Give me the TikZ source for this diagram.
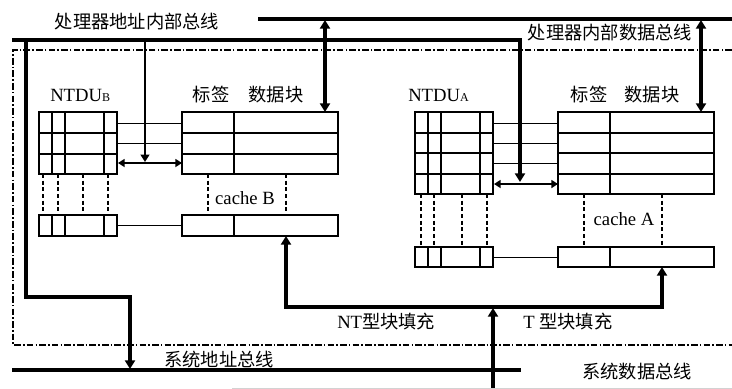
\documentclass[tikz,border=0pt]{standalone}
\usepackage{fontspec}
\setmainfont{Liberation Serif}
\newfontfamily\cjk{Noto Sans CJK SC}
\usetikzlibrary{arrows.meta}
\begin{document}
\begin{tikzpicture}[x=0.75pt,y=-0.75pt,
  bus/.style={line width=2.6pt},
  busarrow/.style={line width=2.5pt,-{Triangle[length=6.5pt,width=7.5pt]}},
  busdbl/.style={line width=2.5pt,{Triangle[length=6.5pt,width=7.5pt]}-{Triangle[length=6.5pt,width=7.5pt]}},
  dbl/.style={line width=1.7pt,{Triangle[length=5pt,width=6pt]}-{Triangle[length=5pt,width=6pt]}},
  tbl/.style={line width=0.95pt},
  link/.style={line width=0.65pt},
  vdash/.style={line width=1.5pt,dash pattern=on 3pt off 2pt},
  frame/.style={line width=0.8pt,dash pattern=on 5pt off 1.6pt on 1.2pt off 1.6pt},
  lbl/.style={font=\fontsize{13.7}{14}\selectfont\cjk, inner sep=0pt},
  lat/.style={font=\fontsize{14}{14}\selectfont, inner sep=0pt}]
\useasboundingbox (0,0) rectangle (732,389);

% ---------- frame (dash-dot) ----------
\draw[frame] (732,50) -- (13,50) -- (13,345) -- (732,345);

% ---------- coordinates ----------
\coordinate (dbL) at (258,19);  \coordinate (dbR) at (732,19);
\coordinate (abL) at (12,40);   \coordinate (abC) at (520,40);
\coordinate (abA) at (520,182);
\coordinate (abV) at (145,40);  \coordinate (abB) at (145,162);
\coordinate (lv1) at (26,40);   \coordinate (lv2) at (26,297);
\coordinate (lv3) at (130,297); \coordinate (sab) at (130,369);
\coordinate (sbL) at (12,370);  \coordinate (sbR) at (521,370);
\coordinate (sd0) at (493,389); \coordinate (sd1) at (493,308);
\coordinate (fB0) at (286,307); \coordinate (fA0) at (662,307);
\coordinate (fB1) at (286,236); \coordinate (fA1) at (662,267);
\coordinate (dB0) at (325,20);  \coordinate (dB1) at (325,112);
\coordinate (dA0) at (701,20);  \coordinate (dA1) at (701,112);

% ---------- NTDU_B ----------
\draw[tbl] (39,112) rectangle (117,174);
\foreach \y in {133,154} \draw[tbl] (39,\y) -- (117,\y);
\foreach \x in {52,65,104} \draw[tbl] (\x,112) -- (\x,174);
\draw[tbl] (39,215) rectangle (117,236);
\foreach \x in {52,65,104} \draw[tbl] (\x,215) -- (\x,236);
\foreach \x in {43,58,83,108} \draw[vdash] (\x,174) -- (\x,215);

% ---------- cache B ----------
\draw[tbl] (182,112) rectangle (338,174);
\foreach \y in {133,154} \draw[tbl] (182,\y) -- (338,\y);
\draw[tbl] (234,112) -- (234,174);
\draw[tbl] (182,215) rectangle (338,236);
\draw[tbl] (234,215) -- (234,236);
\foreach \x in {208,286} \draw[vdash] (\x,174) -- (\x,215);

\foreach \y in {123,143} \draw[link] (117,\y) -- (182,\y);
\draw[link] (117,225) -- (182,225);
\draw[dbl] (118,163) -- (182,163);

% ---------- NTDU_A ----------
\draw[tbl] (415,112) rectangle (493,194);
\foreach \y in {133,153,174} \draw[tbl] (415,\y) -- (493,\y);
\foreach \x in {428,441,480} \draw[tbl] (\x,112) -- (\x,194);
\draw[tbl] (415,247) rectangle (493,267);
\foreach \x in {428,441,480} \draw[tbl] (\x,247) -- (\x,267);
\foreach \x in {421,434,462,487} \draw[vdash] (\x,194) -- (\x,247);

% ---------- cache A ----------
\draw[tbl] (558,112) rectangle (714,194);
\foreach \y in {133,153,174} \draw[tbl] (558,\y) -- (714,\y);
\draw[tbl] (610,112) -- (610,194);
\draw[tbl] (558,247) rectangle (714,267);
\draw[tbl] (610,247) -- (610,267);
\foreach \x in {584,662} \draw[vdash] (\x,194) -- (\x,247);

\foreach \y in {123,143,163} \draw[link] (493,\y) -- (558,\y);
\draw[link] (493,257) -- (558,257);
\draw[dbl] (494,184) -- (558,184);

% ---------- buses ----------
\draw[bus] (dbL) -- (dbR);
\draw[busarrow] (abL) -- (abC) -- (abA);
\draw[line width=2.1pt,-{Triangle[length=5.5pt,width=6.5pt]}] (abV) -- (abB);
\draw[busarrow] (lv1) -- (lv2) -- (lv3) -- (sab);
\draw[bus] (sbL) -- (sbR);
\draw[busarrow] (sd0) -- (sd1);
\draw[busarrow] (fA0) -- (fB0) -- (fB1);
\draw[busarrow] (fB0) -- (fA0) -- (fA1);
\draw[busdbl] (dB0) -- (dB1);
\draw[busdbl] (dA0) -- (dA1);
\draw[gray!35,line width=0.6pt] (232,388) -- (732,388);

% ---------- labels ----------
\node[lbl] (t1) at (137,22) {处理器地址内部总线};
\node[lbl] (t2) at (610,33) {处理器内部数据总线};
\node[lat,anchor=base west] (nb) at (50,101) {NTDU\raisebox{-0.5pt}{\fontsize{9}{9}\selectfont B}};
\node[lat,anchor=base west] (na) at (408,101) {NTDU\raisebox{-0.5pt}{\fontsize{9}{9}\selectfont A}};
\node[lbl] (bt) at (211,95) {标签};
\node[lbl] (bd) at (276,95) {数据块};
\node[lbl] (at) at (589,95) {标签};
\node[lbl] (ad) at (652,95) {数据块};
\node[lat] (cb) at (245,198) {cache B};
\node[lat] (ca) at (624,219) {cache A};
\node[lat,anchor=west] (ntf) at (337,322) {NT{\cjk\fontsize{13.7}{14}\selectfont 型块填充}};
\node[lat,anchor=west] (tf) at (523,322) {T {\cjk\fontsize{13.7}{14}\selectfont 型块填充}};
\node[lbl] (sa) at (219,359) {系统地址总线};
\node[lbl] (sd) at (637,372) {系统数据总线};
\end{tikzpicture}
\end{document}
